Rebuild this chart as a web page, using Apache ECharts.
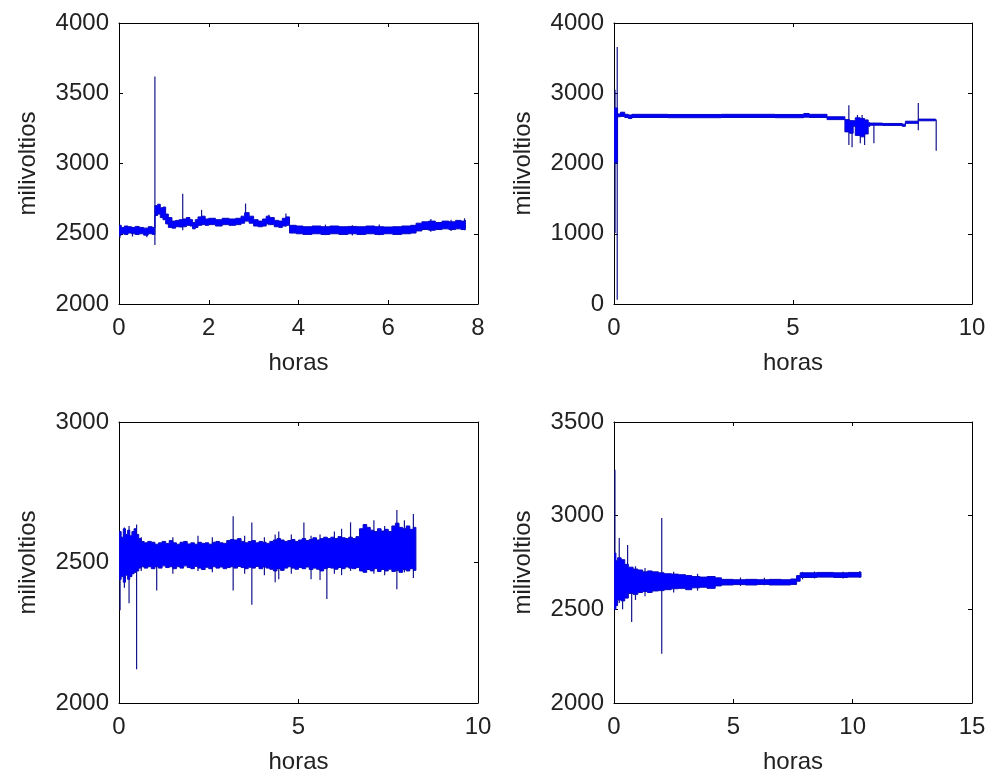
<!DOCTYPE html>
<html>
<head>
<meta charset="utf-8">
<title>milivoltios vs horas</title>
<script src="https://cdn.jsdelivr.net/npm/echarts@6/dist/echarts.min.js"></script>
<style>
  html, body { margin: 0; padding: 0; background: #fff; }
  #chart { width: 989px; height: 776px; }
</style>
</head>
<body>
<div id="chart"></div>
<script>
// band rows: [hora, min mV, max mV]  (dense signal drawn as its envelope)
const band1 = [
  [0.00, 2490, 2560], [0.05, 2500, 2545], [0.12, 2495, 2555], [0.20, 2505, 2550],
  [0.28, 2500, 2545], [0.36, 2495, 2552], [0.45, 2500, 2545], [0.55, 2490, 2540],
  [0.65, 2500, 2550], [0.74, 2495, 2545], [0.80, 2630, 2700], [0.86, 2640, 2710],
  [0.92, 2615, 2685], [0.98, 2600, 2690], [1.04, 2570, 2640], [1.10, 2545, 2615],
  [1.18, 2540, 2590], [1.26, 2550, 2595], [1.34, 2548, 2600], [1.42, 2550, 2605],
  [1.50, 2560, 2615], [1.58, 2555, 2600], [1.64, 2535, 2580], [1.70, 2545, 2600],
  [1.76, 2560, 2620], [1.84, 2565, 2625], [1.92, 2560, 2605], [2.00, 2565, 2610],
  [2.15, 2555, 2600], [2.30, 2565, 2610], [2.45, 2560, 2605], [2.60, 2565, 2610],
  [2.72, 2575, 2625], [2.80, 2590, 2650], [2.90, 2575, 2625], [3.00, 2555, 2600],
  [3.10, 2550, 2590], [3.20, 2555, 2605], [3.28, 2570, 2625], [3.36, 2565, 2615],
  [3.46, 2550, 2595], [3.56, 2545, 2590], [3.64, 2555, 2610], [3.72, 2560, 2620],
  [3.80, 2505, 2560], [3.95, 2500, 2555], [4.10, 2495, 2550], [4.30, 2500, 2555],
  [4.50, 2495, 2550], [4.70, 2500, 2555], [4.90, 2495, 2550], [5.10, 2500, 2552],
  [5.30, 2495, 2550], [5.50, 2500, 2555], [5.70, 2495, 2550], [5.90, 2500, 2548],
  [6.10, 2495, 2550], [6.30, 2500, 2555], [6.50, 2505, 2560], [6.62, 2520, 2575],
  [6.75, 2530, 2585], [6.90, 2525, 2590], [7.05, 2530, 2580], [7.20, 2535, 2590],
  [7.35, 2530, 2585], [7.50, 2535, 2595], [7.62, 2530, 2590], [7.72, 2535, 2595]
];
const spikes1 = [
  [0.02, 2470, 2560], [0.30, 2480, 2545], [0.62, 2475, 2540], [0.80, 2420, 3620],
  [1.42, 2525, 2785], [1.84, 2560, 2670], [2.82, 2590, 2715], [3.34, 2560, 2635],
  [3.72, 2550, 2645], [4.60, 2490, 2565], [5.20, 2488, 2560], [5.80, 2490, 2565],
  [6.95, 2515, 2605], [7.40, 2520, 2600], [7.70, 2525, 2610]
];

const band2 = [
  [0.00, 2010, 2790], [0.10, 2665, 2705], [0.18, 2670, 2730], [0.30, 2655, 2700],
  [0.40, 2640, 2690], [0.50, 2655, 2700], [1.50, 2652, 2698], [3.00, 2655, 2700],
  [4.50, 2652, 2698], [5.30, 2660, 2712], [5.45, 2655, 2700], [5.95, 2625, 2665],
  [6.45, 2450, 2625], [6.58, 2430, 2610], [6.68, 2530, 2610], [6.74, 2400, 2650],
  [6.88, 2380, 2640], [7.00, 2420, 2620], [7.10, 2530, 2580], [7.15, 2545, 2575],
  [7.50, 2542, 2570], [8.05, 2530, 2560], [8.14, 2572, 2602], [8.50, 2608, 2632],
  [8.98, 2608, 2632]
];
const spikes2 = [
  [0.03, 1010, 3050], [0.09, 60, 3660], [6.56, 2265, 2830], [6.65, 2230, 2550],
  [6.80, 2550, 2690], [6.88, 2290, 2500], [6.93, 2560, 2690], [7.00, 2265, 2480],
  [7.26, 2290, 2580], [8.50, 2475, 2860], [9.00, 2180, 2625]
];

const band3 = [
  [0.00, 2440, 2610], [0.06, 2450, 2590], [0.12, 2430, 2620], [0.18, 2455, 2600],
  [0.24, 2440, 2615], [0.30, 2450, 2595], [0.36, 2460, 2610], [0.42, 2465, 2620],
  [0.48, 2470, 2600], [0.55, 2480, 2585], [0.62, 2485, 2575], [0.70, 2480, 2570],
  [0.80, 2485, 2575], [0.90, 2478, 2572], [1.00, 2485, 2565], [1.10, 2480, 2570],
  [1.20, 2488, 2575], [1.30, 2482, 2568], [1.40, 2485, 2578], [1.50, 2478, 2570],
  [1.60, 2485, 2565], [1.70, 2480, 2572], [1.80, 2488, 2575], [1.90, 2482, 2566],
  [2.00, 2478, 2570], [2.10, 2486, 2565], [2.20, 2480, 2572], [2.30, 2475, 2568],
  [2.40, 2483, 2570], [2.50, 2478, 2565], [2.60, 2485, 2572], [2.70, 2480, 2575],
  [2.80, 2484, 2570], [2.90, 2478, 2568], [3.00, 2482, 2578], [3.10, 2485, 2582],
  [3.20, 2480, 2580], [3.30, 2486, 2585], [3.40, 2482, 2575], [3.50, 2478, 2570],
  [3.60, 2483, 2575], [3.70, 2480, 2578], [3.80, 2486, 2570], [3.90, 2478, 2575],
  [4.00, 2484, 2572], [4.10, 2480, 2568], [4.20, 2476, 2575], [4.30, 2470, 2580],
  [4.40, 2478, 2585], [4.50, 2472, 2580], [4.60, 2480, 2575], [4.70, 2485, 2578],
  [4.80, 2480, 2582], [4.90, 2476, 2575], [5.00, 2482, 2580], [5.10, 2478, 2585],
  [5.20, 2484, 2578], [5.30, 2475, 2582], [5.40, 2480, 2588], [5.50, 2476, 2580],
  [5.60, 2470, 2585], [5.70, 2478, 2590], [5.80, 2482, 2585], [5.90, 2480, 2590],
  [6.00, 2476, 2585], [6.10, 2482, 2592], [6.20, 2478, 2588], [6.30, 2484, 2585],
  [6.40, 2480, 2590], [6.50, 2478, 2585], [6.60, 2482, 2592], [6.70, 2470, 2620],
  [6.80, 2465, 2635], [6.90, 2475, 2625], [7.00, 2470, 2615], [7.10, 2478, 2610],
  [7.20, 2468, 2620], [7.30, 2475, 2612], [7.40, 2470, 2618], [7.50, 2476, 2610],
  [7.60, 2468, 2630], [7.70, 2472, 2640], [7.80, 2465, 2625], [7.90, 2475, 2620],
  [8.00, 2470, 2630], [8.10, 2478, 2618], [8.20, 2472, 2625], [8.27, 2480, 2600]
];
const spikes3 = [
  [0.03, 2330, 2600], [0.15, 2410, 2625], [0.28, 2355, 2630], [0.49, 2120, 2635],
  [0.62, 2470, 2590], [1.05, 2400, 2560], [1.50, 2460, 2590], [2.20, 2470, 2595],
  [2.60, 2465, 2590], [3.18, 2400, 2665], [3.50, 2460, 2595], [3.70, 2350, 2642],
  [4.05, 2455, 2590], [4.35, 2430, 2600], [4.45, 2440, 2610], [4.80, 2460, 2600],
  [5.15, 2480, 2642], [5.35, 2440, 2595], [5.60, 2438, 2600], [5.79, 2370, 2590],
  [6.00, 2460, 2610], [6.20, 2455, 2620], [6.45, 2470, 2643], [7.10, 2460, 2650],
  [7.40, 2455, 2630], [7.74, 2405, 2687], [7.95, 2465, 2650], [8.20, 2445, 2673]
];

const band4 = [
  [0.00, 2500, 2800], [0.08, 2520, 2760], [0.15, 2550, 2775], [0.30, 2545, 2765],
  [0.45, 2560, 2740], [0.60, 2585, 2725], [0.80, 2580, 2715], [1.00, 2590, 2710],
  [1.20, 2595, 2700], [1.40, 2590, 2705], [1.60, 2598, 2700], [1.86, 2600, 2695],
  [2.10, 2605, 2690], [2.40, 2610, 2688], [2.70, 2612, 2685], [3.00, 2605, 2680],
  [3.26, 2615, 2675], [3.60, 2618, 2672], [3.90, 2612, 2675], [4.24, 2625, 2668],
  [4.50, 2630, 2660], [5.00, 2632, 2658], [5.50, 2630, 2660], [6.00, 2633, 2658],
  [6.50, 2630, 2660], [7.00, 2630, 2658], [7.40, 2633, 2662], [7.65, 2650, 2680],
  [7.80, 2670, 2695], [8.50, 2672, 2697], [9.20, 2670, 2695], [9.80, 2672, 2697],
  [10.35, 2672, 2698]
];
const spikes4 = [
  [0.04, 2497, 3245], [0.22, 2534, 2881], [0.36, 2500, 2700], [0.57, 2560, 2843],
  [0.74, 2432, 2700], [0.90, 2550, 2730], [1.30, 2570, 2720], [2.00, 2263, 2988],
  [2.50, 2590, 2700], [3.50, 2600, 2690], [5.30, 2625, 2670], [6.30, 2628, 2668],
  [7.90, 2660, 2700], [8.40, 2665, 2702], [9.60, 2665, 2700], [10.30, 2668, 2705]
];

// axis ranges per panel: [xMax, xStep, yMin, yMax, yStep]
const ranges = [
  [8, 2, 2000, 4000, 500],
  [10, 5, 0, 4000, 1000],
  [10, 5, 2000, 3000, 500],
  [15, 5, 2000, 3500, 500]
];
const xName = 'horas';
const yName = 'milivoltios';

const grids = [
  { left: 119, top: 23, width: 359, height: 281 },
  { left: 614, top: 23, width: 358, height: 281 },
  { left: 119, top: 422, width: 359, height: 281 },
  { left: 614, top: 422, width: 358, height: 281 }
];

const FONT = 'Liberation Sans';
const TEXT = '#222';
const BAND = '#0000ff';
const EDGE = '#0808c0';
const SPIKE = '#14148c';

const lineStyle = { color: '#000', width: 1 };

function axisBase(gi, min, max, step) {
  return {
    gridIndex: gi, type: 'value', min: min, max: max, interval: step,
    splitLine: { show: false },
    axisLine: { show: true, onZero: false, lineStyle: lineStyle },
    axisTick: { show: true, inside: true, length: 4, lineStyle: lineStyle }
  };
}

const xAxes = [], yAxes = [];
ranges.forEach(function (r, gi) {
  const bx = axisBase(gi, 0, r[0], r[1]);
  bx.position = 'bottom';
  bx.name = xName;
  bx.nameLocation = 'middle';
  bx.nameGap = 47;
  bx.nameTextStyle = { fontFamily: FONT, fontSize: 24, color: TEXT };
  bx.axisLabel = { fontFamily: FONT, fontSize: 24, color: TEXT, margin: 12,
    showMinLabel: true, showMaxLabel: true, formatter: v => String(v) };
  const tx = axisBase(gi, 0, r[0], r[1]);
  tx.position = 'top';
  tx.axisLabel = { show: false };
  xAxes.push(bx, tx);

  const ly = axisBase(gi, r[2], r[3], r[4]);
  ly.position = 'left';
  ly.name = yName;
  ly.nameLocation = 'middle';
  ly.nameGap = 79;
  ly.nameTextStyle = { fontFamily: FONT, fontSize: 24, color: TEXT };
  ly.axisLabel = { fontFamily: FONT, fontSize: 24, color: TEXT, margin: 10,
    showMinLabel: true, showMaxLabel: true, formatter: v => String(v) };
  const ry = axisBase(gi, r[2], r[3], r[4]);
  ry.position = 'right';
  ry.axisLabel = { show: false };
  yAxes.push(ly, ry);
});

// envelope drawn as a stepped polygon through the axis scales
function bandSeries(rows, gi) {
  return {
    type: 'custom', xAxisIndex: gi * 2, yAxisIndex: gi * 2, z: 3, silent: true, clip: true,
    data: [[rows[0][0], rows[0][1]]],
    renderItem: function (params, api) {
      const up = [], dn = [];
      rows.forEach(function (r, i) {
        const tEnd = i < rows.length - 1 ? rows[i + 1][0] : r[0];
        up.push(api.coord([r[0], r[2]]), api.coord([tEnd, r[2]]));
        dn.push(api.coord([r[0], r[1]]), api.coord([tEnd, r[1]]));
      });
      return {
        type: 'polygon',
        shape: { points: up.concat(dn.reverse()) },
        style: { fill: BAND, stroke: EDGE, lineWidth: 1 }
      };
    }
  };
}

// single vertical excursions
function spikeSeries(rows, gi) {
  return {
    type: 'custom', xAxisIndex: gi * 2, yAxisIndex: gi * 2, z: 2, silent: true, clip: true,
    encode: { x: 0, y: [1, 2] },
    data: rows,
    renderItem: function (params, api) {
      const a = api.coord([api.value(0), api.value(1)]);
      const b = api.coord([api.value(0), api.value(2)]);
      return {
        type: 'line',
        shape: { x1: a[0], y1: a[1], x2: b[0], y2: b[1] },
        style: { stroke: SPIKE, lineWidth: 1.2 }
      };
    }
  };
}

const series = [
  spikeSeries(spikes1, 0), bandSeries(band1, 0),
  spikeSeries(spikes2, 1), bandSeries(band2, 1),
  spikeSeries(spikes3, 2), bandSeries(band3, 2),
  spikeSeries(spikes4, 3), bandSeries(band4, 3)
];

const chart = echarts.init(document.getElementById('chart'), null, { renderer: 'canvas' });
chart.setOption({
  backgroundColor: '#fff',
  animation: false,
  grid: grids,
  xAxis: xAxes,
  yAxis: yAxes,
  series: series
});
</script>
</body>
</html>
